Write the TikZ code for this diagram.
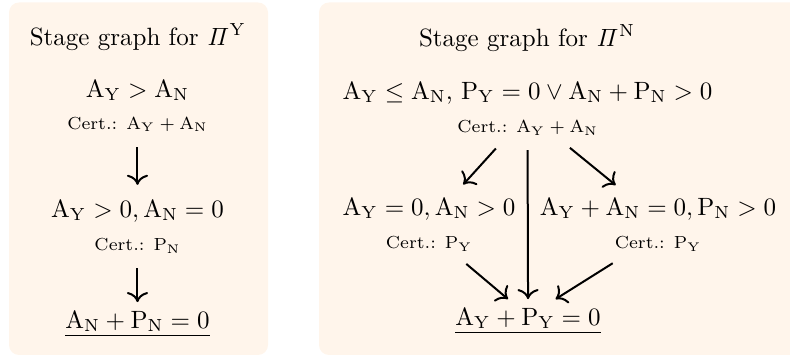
\documentclass[tikz,border=0pt]{standalone}
\usepackage{amsmath,amssymb}
\usetikzlibrary{arrows.meta,positioning}

\begin{document}
\begin{tikzpicture}[
    >={To[scale=1.2]},
    panel/.style={fill=orange!8, rounded corners=4pt},
    title/.style={anchor=base},
    stage/.style={anchor=base},
    cert/.style={font=\scriptsize},
    flow/.style={->, thick, shorten <=2.5pt}
]

\useasboundingbox (0,0) rectangle (11.107,-5.005);

% background panels
\fill[panel] (0.127,-0.035) rectangle (3.768,-4.991);
\fill[panel] (4.485,-0.035) rectangle (11.4,-4.991);

% stage graph for Pi^Y
\node[title] (tY) at (1.940,-0.633) {Stage graph for $\mathit{\Pi}^{\mathrm{Y}}$};
\node[stage] (y1) at (1.933,-1.364) {$\mathrm{A_Y} > \mathrm{A_N}$};
\node[cert, below=-0.5pt of y1] (y1c) {Cert.: $\mathrm{A_Y} + \mathrm{A_N}$};
\node[stage] (y2) at (1.933,-3.051) {$\mathrm{A_Y} > 0, \mathrm{A_N} = 0$};
\node[cert, below=-0.5pt of y2] (y2c) {Cert.: $\mathrm{P_N}$};
\node[stage] (y3) at (1.933,-4.612) {$\underline{\mathrm{A_N} + \mathrm{P_N} = 0}$};

\draw[flow, shorten >=2.5pt] (y1c) -- (y2);
\draw[flow] (y2c) -- (y3);

% stage graph for Pi^N
\node[title] (tN) at (7.410,-0.647) {Stage graph for $\mathit{\Pi}^{\mathrm{N}}$};
\node[stage] (n1) at (7.417,-1.392)
    {$\mathrm{A_Y} \le \mathrm{A_N}$, $\mathrm{P_Y} = 0 \lor \mathrm{A_N} + \mathrm{P_N} > 0$};
\node[cert, below=-0.5pt of n1] (n1c) {Cert.: $\mathrm{A_Y} + \mathrm{A_N}$};
\node[stage] (n2) at (6.032,-3.023) {$\mathrm{A_Y} = 0, \mathrm{A_N} > 0$};
\node[cert, below=-0.5pt of n2] (n2c) {Cert.: $\mathrm{P_Y}$};
\node[stage] (n3) at (9.251,-3.023) {$\mathrm{A_Y} + \mathrm{A_N} = 0, \mathrm{P_N} > 0$};
\node[cert, below=-0.5pt of n3] (n3c) {Cert.: $\mathrm{P_Y}$};
\node[stage] (n4) at (7.424,-4.570) {$\underline{\mathrm{A_Y} + \mathrm{P_Y} = 0}$};

\draw[flow, shorten >=2.5pt] ([xshift=-11pt]n1c.south) -- ([xshift=12pt]n2.north);
\draw[flow] (n1c.south) -- (n4.north);
\draw[flow, shorten >=2.5pt] ([xshift=15pt]n1c.south) -- ([xshift=-15pt]n3.north);
\draw[flow] ([xshift=13pt]n2c.south) -- ([xshift=-8pt]n4.north);
\draw[flow] ([xshift=-16pt]n3c.south) -- ([xshift=11pt]n4.north);

\end{tikzpicture}
\end{document}
